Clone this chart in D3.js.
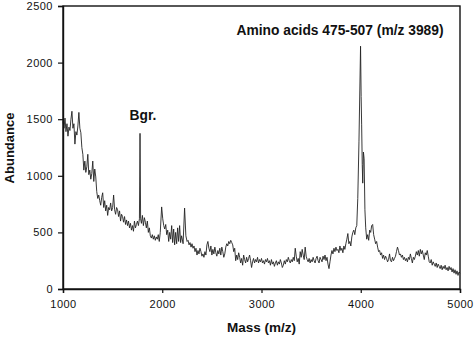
<!DOCTYPE html>
<html><head><meta charset="utf-8">
<script src="https://cdn.jsdelivr.net/npm/d3@7"></script>
<style>
html,body{margin:0;padding:0;background:#fff;}
svg{display:block;}
text{font-family:"Liberation Sans",Arial,Helvetica,sans-serif;fill:#111;}
</style></head><body>
<svg id="c" width="474" height="337"></svg>
<script>
const mass = [1000,1010,1020,1030,1040,1050,1060,1070,1080,1090,1100,1110,1120,1130,1140,1150,1160,1170,1180,1190,
1200,1210,1220,1230,1240,1250,1260,1270,1280,1290,1300,1310,1320,1330,1340,1350,1360,1370,1380,1390,
1400,1410,1420,1430,1440,1450,1460,1470,1480,1490,1500,1510,1520,1530,1540,1550,1560,1570,1580,1590,
1600,1610,1620,1630,1640,1650,1660,1670,1680,1690,1700,1710,1720,1730,1740,1750,1760,1770,1776,1782,
1790,1800,1810,1820,1830,1840,1850,1860,1870,1880,1890,1900,1910,1920,1930,1940,1950,1960,1970,1980,
1994,2005,2015,2025,2035,2045,2055,2065,2075,2085,2095,2105,2115,2125,2135,2145,2155,2165,2175,2185,
2195,2210,2225,2238,2250,2260,2270,2280,2290,2300,2310,2320,2330,2340,2350,2360,2370,2380,2390,2400,
2410,2420,2430,2440,2450,2460,2470,2480,2490,2500,2510,2520,2530,2540,2550,2560,2570,2580,2590,2600,
2610,2620,2630,2640,2650,2660,2670,2680,2690,2700,2710,2720,2730,2740,2750,2760,2770,2780,2790,2800,
2810,2820,2830,2840,2850,2860,2870,2880,2890,2900,2910,2920,2930,2940,2950,2960,2970,2980,2990,3000,
3010,3020,3030,3040,3050,3060,3070,3080,3090,3100,3110,3120,3130,3140,3150,3160,3170,3180,3190,3200,
3210,3220,3230,3240,3250,3260,3270,3280,3290,3300,3310,3320,3330,3340,3350,3360,3370,3380,3390,3400,
3410,3420,3430,3440,3450,3460,3470,3480,3490,3500,3510,3520,3530,3540,3550,3560,3570,3580,3590,3600,
3610,3620,3630,3640,3650,3660,3670,3680,3690,3700,3710,3720,3730,3740,3750,3760,3770,3780,3790,3800,
3810,3820,3830,3840,3850,3860,3870,3880,3890,3900,3910,3920,3930,3940,3950,3960,3970,3982,3998,4004,
4009,4015,4020,4027,4034,4042,4050,4060,4070,4080,4090,4100,4110,4120,4130,4140,4150,4160,4170,4180,
4190,4200,4210,4220,4230,4240,4250,4260,4270,4280,4290,4300,4310,4320,4330,4340,4350,4360,4370,4380,
4390,4400,4410,4420,4430,4440,4450,4460,4470,4480,4490,4500,4510,4520,4530,4540,4550,4560,4570,4580,
4590,4600,4610,4620,4630,4640,4650,4660,4670,4680,4690,4700,4710,4720,4730,4740,4750,4760,4770,4780,
4790,4800,4810,4820,4830,4840,4850,4860,4870,4880,4890,4900,4910,4920,4930,4940,4950,4960,4970,4980,
4990,5000];
const abundance = [1480,1420,1510,1390,1460,1350,1430,1400,1500,1570,1420,1460,1280,1390,1360,1440,1560,1420,1380,1250,
1190,1050,1130,1030,1080,1190,1010,1050,970,1020,1130,950,1060,990,860,800,830,780,740,810,
850,720,780,690,740,650,720,700,760,690,720,830,700,660,720,700,640,690,600,660,
640,590,640,570,610,560,600,540,580,520,560,510,600,540,570,600,560,620,1375,620,
580,650,560,630,590,540,600,500,540,470,450,480,440,470,430,460,440,480,420,500,
725,620,560,530,570,480,520,420,500,440,560,410,530,390,500,400,540,420,560,410,
470,400,715,470,420,430,390,410,370,400,360,380,330,360,300,340,310,360,330,290,
310,280,330,300,390,420,360,330,380,300,350,310,370,320,290,340,310,360,300,370,
330,280,310,370,400,380,420,400,430,410,390,330,360,250,300,260,320,280,230,270,
210,300,260,230,280,240,270,300,250,190,240,270,230,260,240,280,230,260,240,270,
230,250,220,260,240,270,230,250,210,260,220,240,200,230,250,210,240,220,260,230,
190,210,250,220,260,240,280,250,230,260,240,280,250,360,290,240,270,220,330,280,
350,300,260,370,290,260,240,270,230,260,240,280,250,230,270,290,250,230,280,260,
240,290,260,300,250,280,220,180,240,300,340,310,360,330,370,340,350,320,380,340,
360,320,380,350,400,440,490,400,420,380,460,500,520,480,540,560,800,1300,2145,1700,
1450,1100,935,1210,1150,700,540,440,480,430,520,500,560,570,480,440,400,420,370,330,
340,300,320,270,300,260,290,270,240,260,310,250,240,280,250,270,290,330,370,340,
300,310,280,300,260,280,250,270,240,280,260,310,270,230,280,260,290,330,300,340,
290,350,310,340,300,260,320,300,340,290,240,230,260,210,240,220,200,230,190,220,
200,180,210,170,200,180,210,170,190,160,200,170,190,150,180,140,170,130,160,120,
150,140];
const xTicks = [1000,2000,3000,4000,5000];
const yTicks = [0,500,1000,1500,2000,2500];
const xLabel = "Mass (m/z)";
const yLabel = "Abundance";
const annotations = [
  {text:"Bgr.", m:1806, v:1493},
  {text:"Amino acids 475-507 (m/z 3989)", m:3791, v:2244}
];

const svg = d3.select("#c");
const L=63, R=460, T=6, B=289;
const x = d3.scaleLinear().domain([1000,5000]).range([L,R]);
const y = d3.scaleLinear().domain([0,2500]).range([B,T]);

const pts = mass.map((m,i)=>[m,abundance[i]]);
svg.append("path").datum(pts)
  .attr("fill","none").attr("stroke","#222").attr("stroke-width",0.9)
  .attr("stroke-linejoin","round")
  .attr("d", d3.line().x(d=>x(d[0])).y(d=>y(d[1])));

// frame
svg.append("rect").attr("x",L).attr("y",T).attr("width",R-L).attr("height",B-T)
  .attr("fill","none").attr("stroke","#111").attr("stroke-width",1.4);

const xa = svg.append("g").attr("transform",`translate(0,${B})`)
  .call(d3.axisBottom(x).tickValues(xTicks).tickSize(4).tickPadding(7).tickFormat(d3.format("d")));
const ya = svg.append("g").attr("transform",`translate(${L},0)`)
  .call(d3.axisLeft(y).tickValues(yTicks).tickSize(5).tickPadding(5).tickFormat(d3.format("d")));
[xa,ya].forEach(a=>{
  a.select(".domain").attr("stroke","#111").attr("stroke-width",1.4);
  a.selectAll(".tick line").attr("stroke","#111").attr("stroke-width",1.2);
  a.selectAll("text").style("font-family","'Liberation Sans',Arial,sans-serif")
    .style("font-size","11px").attr("fill","#111").style("letter-spacing","0.5px");
});

svg.append("text").attr("x",(L+R)/2).attr("y",332).attr("text-anchor","middle")
  .style("font-size","13.5px").style("font-weight","bold").text(xLabel);
svg.append("text").attr("transform",`translate(14,148) rotate(-90)`).attr("text-anchor","middle")
  .style("font-size","13px").style("font-weight","bold").text(yLabel);

annotations.forEach(a=>{
  svg.append("text").attr("x",x(a.m)).attr("y",y(a.v)).attr("text-anchor","middle")
    .style("font-size","13.8px").style("font-weight","bold").text(a.text);
});
</script></body></html>
